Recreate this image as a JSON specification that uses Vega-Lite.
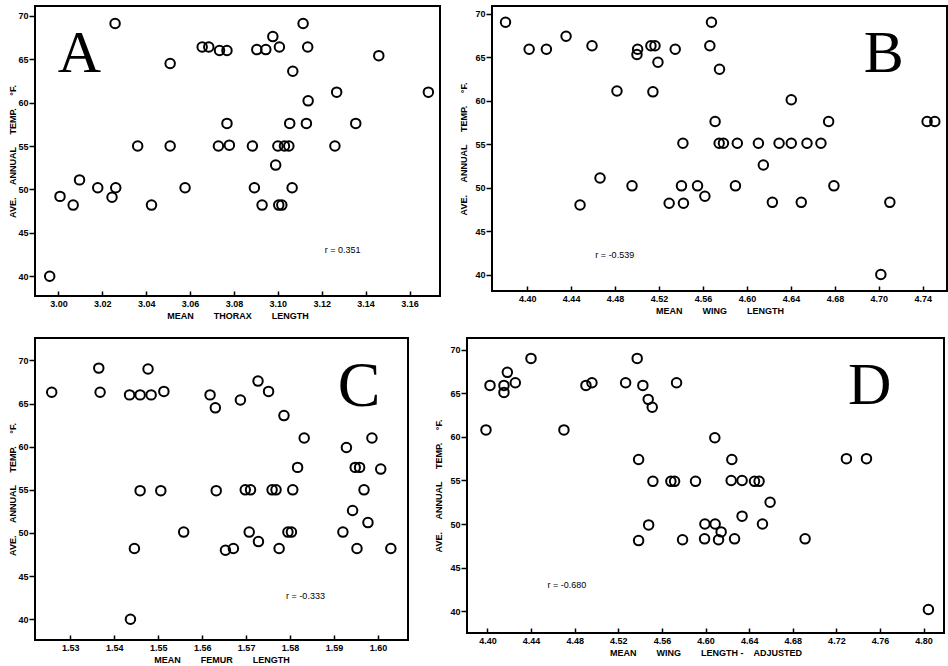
{
  "$schema": "https://vega.github.io/schema/vega-lite/v6.json",
  "background": "white",
  "padding": {"left": 7, "top": 5, "right": 0, "bottom": 0},
  "spacing": 16,
  "config": {
    "view": {"stroke": "black", "strokeWidth": 2},
    "axis": {
      "grid": false,
      "domain": false,
      "labelFont": "Liberation Sans",
      "labelFontWeight": "bold",
      "labelFontSize": 9,
      "labelColor": "black",
      "titleFont": "Liberation Sans",
      "titleFontWeight": "bold",
      "titleFontSize": 9,
      "titleColor": "black",
      "tickColor": "black",
      "tickWidth": 1.5
    },
    "axisX": {"tickSize": -5, "labelPadding": 8, "titlePadding": 3},
    "axisY": {"tickSize": 6, "labelPadding": 1, "titlePadding": 0}
  },
  "vconcat": [
    {
      "spacing": 17,
      "hconcat": [
        {
          "width": 405,
          "height": 290,
          "layer": [
            {
              "data": {"values": [
                {"x": 2.996, "y": 40.0}, {"x": 3.0007, "y": 49.2}, {"x": 3.0067, "y": 48.2}, {"x": 3.0096, "y": 51.1},
                {"x": 3.0179, "y": 50.2}, {"x": 3.0244, "y": 49.1}, {"x": 3.0261, "y": 50.2}, {"x": 3.0258, "y": 69.1},
                {"x": 3.0361, "y": 55.0}, {"x": 3.0424, "y": 48.2}, {"x": 3.0509, "y": 64.5}, {"x": 3.0509, "y": 55.0},
                {"x": 3.0577, "y": 50.2}, {"x": 3.0655, "y": 66.4}, {"x": 3.0685, "y": 66.4}, {"x": 3.0734, "y": 66.0},
                {"x": 3.0768, "y": 66.0}, {"x": 3.0768, "y": 57.6}, {"x": 3.0729, "y": 55.0}, {"x": 3.0779, "y": 55.1},
                {"x": 3.0884, "y": 55.0}, {"x": 3.0904, "y": 66.1}, {"x": 3.0945, "y": 66.1}, {"x": 3.0977, "y": 67.6},
                {"x": 3.1007, "y": 66.4}, {"x": 3.1115, "y": 69.1}, {"x": 3.1136, "y": 66.4}, {"x": 3.1068, "y": 63.6},
                {"x": 3.1268, "y": 61.2}, {"x": 3.1138, "y": 60.2}, {"x": 3.1054, "y": 57.6}, {"x": 3.113, "y": 57.6},
                {"x": 3.1355, "y": 57.6}, {"x": 3.146, "y": 65.4}, {"x": 3.1686, "y": 61.2}, {"x": 3.1, "y": 55.0},
                {"x": 3.103, "y": 55.0}, {"x": 3.105, "y": 55.0}, {"x": 3.126, "y": 55.0}, {"x": 3.099, "y": 52.8},
                {"x": 3.0893, "y": 50.2}, {"x": 3.1065, "y": 50.2}, {"x": 3.0928, "y": 48.2}, {"x": 3.1004, "y": 48.2},
                {"x": 3.1018, "y": 48.2}
              ]},
              "mark": {"type": "point", "shape": "circle", "filled": false, "stroke": "black", "strokeWidth": 2, "size": 90, "opacity": 1},
              "encoding": {
                "x": {"field": "x", "type": "quantitative", "scale": {"domain": [2.9893, 3.1739], "nice": false, "zero": false},
                  "axis": {"title": "MEAN\u00a0\u00a0\u00a0\u00a0\u00a0\u00a0\u00a0\u00a0THORAX\u00a0\u00a0\u00a0\u00a0\u00a0\u00a0\u00a0\u00a0LENGTH", "values": [3.0, 3.02, 3.04, 3.06, 3.08, 3.1, 3.12, 3.14, 3.16], "format": ".2f"}},
                "y": {"field": "y", "type": "quantitative", "scale": {"domain": [37.73, 71.12], "nice": false, "zero": false},
                  "axis": {"title": "AVE.\u00a0\u00a0\u00a0\u00a0\u00a0ANNUAL\u00a0\u00a0\u00a0\u00a0\u00a0TEMP.\u00a0\u00a0\u00a0\u00a0\u00a0°F.", "values": [40, 45, 50, 55, 60, 65, 70]}}
              }
            },
            {
              "data": {"values": [{"x": 3.0095, "y": 63.55, "t": "A"}]},
              "mark": {"type": "text", "font": "Liberation Serif", "fontSize": 60, "baseline": "alphabetic", "align": "center", "color": "black"},
              "encoding": {
                "x": {"field": "x", "type": "quantitative", "scale": {"domain": [2.9893, 3.1739], "nice": false, "zero": false}},
                "y": {"field": "y", "type": "quantitative", "scale": {"domain": [37.73, 71.12], "nice": false, "zero": false}},
                "text": {"field": "t"}
              }
            },
            {
              "data": {"values": [{"x": 3.1295, "y": 43.0, "t": "r = 0.351"}]},
              "mark": {"type": "text", "font": "Liberation Sans", "fontSize": 9, "baseline": "middle", "align": "center", "color": "black"},
              "encoding": {
                "x": {"field": "x", "type": "quantitative", "scale": {"domain": [2.9893, 3.1739], "nice": false, "zero": false}},
                "y": {"field": "y", "type": "quantitative", "scale": {"domain": [37.73, 71.12], "nice": false, "zero": false}},
                "text": {"field": "t"}
              }
            }
          ]
        },
        {
          "width": 455,
          "height": 285,
          "layer": [
            {
              "data": {"values": [
                {"x": 4.3803, "y": 69.0}, {"x": 4.4018, "y": 65.9}, {"x": 4.4175, "y": 65.9}, {"x": 4.4354, "y": 67.4},
                {"x": 4.459, "y": 66.3}, {"x": 4.4817, "y": 61.1}, {"x": 4.4663, "y": 51.1}, {"x": 4.4481, "y": 48.0},
                {"x": 4.4954, "y": 50.2}, {"x": 4.5005, "y": 65.9}, {"x": 4.4999, "y": 65.3}, {"x": 4.5126, "y": 66.3},
                {"x": 4.5163, "y": 66.3}, {"x": 4.519, "y": 64.4}, {"x": 4.5144, "y": 61.0}, {"x": 4.5347, "y": 65.9},
                {"x": 4.5292, "y": 48.2}, {"x": 4.5404, "y": 50.2}, {"x": 4.5422, "y": 48.2}, {"x": 4.5417, "y": 55.1},
                {"x": 4.555, "y": 50.2}, {"x": 4.5617, "y": 49.0}, {"x": 4.5677, "y": 69.0}, {"x": 4.5662, "y": 66.3},
                {"x": 4.575, "y": 63.6}, {"x": 4.571, "y": 57.6}, {"x": 4.5747, "y": 55.1}, {"x": 4.5786, "y": 55.1},
                {"x": 4.5912, "y": 55.1}, {"x": 4.5895, "y": 50.2}, {"x": 4.6104, "y": 55.1}, {"x": 4.6149, "y": 52.6},
                {"x": 4.6231, "y": 48.3}, {"x": 4.6292, "y": 55.1}, {"x": 4.6403, "y": 55.1}, {"x": 4.6403, "y": 60.1},
                {"x": 4.6494, "y": 48.3}, {"x": 4.6546, "y": 55.1}, {"x": 4.6673, "y": 55.1}, {"x": 4.6743, "y": 57.6},
                {"x": 4.6791, "y": 50.2}, {"x": 4.7218, "y": 40.0}, {"x": 4.73, "y": 48.3}, {"x": 4.7639, "y": 57.6},
                {"x": 4.7709, "y": 57.6}
              ]},
              "mark": {"type": "point", "shape": "circle", "filled": false, "stroke": "black", "strokeWidth": 2, "size": 90, "opacity": 1},
              "encoding": {
                "x": {"field": "x", "type": "quantitative", "scale": {"domain": [4.368, 4.782], "nice": false, "zero": false},
                  "axis": {"title": "MEAN\u00a0\u00a0\u00a0\u00a0\u00a0\u00a0\u00a0\u00a0WING\u00a0\u00a0\u00a0\u00a0\u00a0\u00a0\u00a0\u00a0LENGTH", "values": [4.4, 4.44, 4.48, 4.52, 4.56, 4.6, 4.64, 4.68, 4.72, 4.76],
                    "labelExpr": "datum.value > 4.715 && datum.value < 4.725 ? '4.70' : datum.value > 4.755 ? '4.74' : format(datum.value, '.2f')"}},
                "y": {"field": "y", "type": "quantitative", "scale": {"domain": [38.11, 70.87], "nice": false, "zero": false},
                  "axis": {"title": "AVE.\u00a0\u00a0\u00a0\u00a0\u00a0ANNUAL\u00a0\u00a0\u00a0\u00a0\u00a0TEMP.\u00a0\u00a0\u00a0\u00a0\u00a0°F.", "titlePadding": 6, "values": [40, 45, 50, 55, 60, 65, 70]}}
              }
            },
            {
              "data": {"values": [{"x": 4.7245, "y": 63.25, "t": "B"}]},
              "mark": {"type": "text", "font": "Liberation Serif", "fontSize": 60, "baseline": "alphabetic", "align": "center", "color": "black"},
              "encoding": {
                "x": {"field": "x", "type": "quantitative", "scale": {"domain": [4.368, 4.782], "nice": false, "zero": false}},
                "y": {"field": "y", "type": "quantitative", "scale": {"domain": [38.11, 70.87], "nice": false, "zero": false}},
                "text": {"field": "t"}
              }
            },
            {
              "data": {"values": [{"x": 4.4797, "y": 42.3, "t": "r = -0.539"}]},
              "mark": {"type": "text", "font": "Liberation Sans", "fontSize": 9, "baseline": "middle", "align": "center", "color": "black"},
              "encoding": {
                "x": {"field": "x", "type": "quantitative", "scale": {"domain": [4.368, 4.782], "nice": false, "zero": false}},
                "y": {"field": "y", "type": "quantitative", "scale": {"domain": [38.11, 70.87], "nice": false, "zero": false}},
                "text": {"field": "t"}
              }
            }
          ]
        }
      ]
    },
    {
      "spacing": 24,
      "hconcat": [
        {
          "width": 373,
          "height": 302,
          "layer": [
            {
              "data": {"values": [
                {"x": 1.5258, "y": 66.3}, {"x": 1.5365, "y": 69.1}, {"x": 1.5368, "y": 66.3}, {"x": 1.5435, "y": 66.0},
                {"x": 1.5459, "y": 66.0}, {"x": 1.5484, "y": 66.0}, {"x": 1.5477, "y": 69.0}, {"x": 1.5513, "y": 66.4},
                {"x": 1.5459, "y": 54.9}, {"x": 1.5506, "y": 54.9}, {"x": 1.5446, "y": 48.2}, {"x": 1.5437, "y": 40.0},
                {"x": 1.5558, "y": 50.1}, {"x": 1.5618, "y": 66.0}, {"x": 1.563, "y": 64.5}, {"x": 1.5632, "y": 54.9},
                {"x": 1.5653, "y": 48.0}, {"x": 1.5671, "y": 48.2}, {"x": 1.5687, "y": 65.4}, {"x": 1.5727, "y": 67.6},
                {"x": 1.5751, "y": 66.4}, {"x": 1.5786, "y": 63.6}, {"x": 1.5832, "y": 61.0}, {"x": 1.5817, "y": 57.6},
                {"x": 1.5698, "y": 55.0}, {"x": 1.571, "y": 55.0}, {"x": 1.5759, "y": 55.0}, {"x": 1.5768, "y": 55.0},
                {"x": 1.5806, "y": 55.0}, {"x": 1.5707, "y": 50.1}, {"x": 1.5728, "y": 49.0}, {"x": 1.5775, "y": 48.2},
                {"x": 1.5795, "y": 50.1}, {"x": 1.5803, "y": 50.1}, {"x": 1.5928, "y": 59.9}, {"x": 1.5986, "y": 61.0},
                {"x": 1.5948, "y": 57.6}, {"x": 1.5958, "y": 57.6}, {"x": 1.6006, "y": 57.4}, {"x": 1.5968, "y": 55.0},
                {"x": 1.5942, "y": 52.6}, {"x": 1.5977, "y": 51.2}, {"x": 1.592, "y": 50.1}, {"x": 1.5952, "y": 48.2},
                {"x": 1.6029, "y": 48.2}
              ]},
              "mark": {"type": "point", "shape": "circle", "filled": false, "stroke": "black", "strokeWidth": 2, "size": 90, "opacity": 1},
              "encoding": {
                "x": {"field": "x", "type": "quantitative", "scale": {"domain": [1.522, 1.6068], "nice": false, "zero": false},
                  "axis": {"title": "MEAN\u00a0\u00a0\u00a0\u00a0\u00a0\u00a0\u00a0\u00a0FEMUR\u00a0\u00a0\u00a0\u00a0\u00a0\u00a0\u00a0\u00a0LENGTH", "values": [1.53, 1.54, 1.55, 1.56, 1.57, 1.58, 1.59, 1.6], "format": ".2f"}},
                "y": {"field": "y", "type": "quantitative", "scale": {"domain": [37.6, 72.59], "nice": false, "zero": false},
                  "axis": {"title": "AVE.\u00a0\u00a0\u00a0\u00a0\u00a0ANNUAL\u00a0\u00a0\u00a0\u00a0\u00a0TEMP.\u00a0\u00a0\u00a0\u00a0\u00a0°F.", "values": [40, 45, 50, 55, 60, 65, 70]}}
              }
            },
            {
              "data": {"values": [{"x": 1.5957, "y": 64.7, "t": "C"}]},
              "mark": {"type": "text", "font": "Liberation Serif", "fontSize": 64, "baseline": "alphabetic", "align": "center", "color": "black"},
              "encoding": {
                "x": {"field": "x", "type": "quantitative", "scale": {"domain": [1.522, 1.6068], "nice": false, "zero": false}},
                "y": {"field": "y", "type": "quantitative", "scale": {"domain": [37.6, 72.59], "nice": false, "zero": false}},
                "text": {"field": "t"}
              }
            },
            {
              "data": {"values": [{"x": 1.5835, "y": 42.7, "t": "r = -0.333"}]},
              "mark": {"type": "text", "font": "Liberation Sans", "fontSize": 9, "baseline": "middle", "align": "center", "color": "black"},
              "encoding": {
                "x": {"field": "x", "type": "quantitative", "scale": {"domain": [1.522, 1.6068], "nice": false, "zero": false}},
                "y": {"field": "y", "type": "quantitative", "scale": {"domain": [37.6, 72.59], "nice": false, "zero": false}},
                "text": {"field": "t"}
              }
            }
          ]
        },
        {
          "width": 477,
          "height": 295,
          "layer": [
            {
              "data": {"values": [
                {"x": 4.3986, "y": 60.8}, {"x": 4.4023, "y": 65.9}, {"x": 4.4151, "y": 65.9}, {"x": 4.4151, "y": 65.1},
                {"x": 4.4182, "y": 67.4}, {"x": 4.4255, "y": 66.2}, {"x": 4.4399, "y": 69.0}, {"x": 4.4701, "y": 60.8},
                {"x": 4.4903, "y": 65.9}, {"x": 4.4958, "y": 66.2}, {"x": 4.5267, "y": 66.2}, {"x": 4.5373, "y": 69.0},
                {"x": 4.5425, "y": 65.9}, {"x": 4.5474, "y": 64.3}, {"x": 4.5511, "y": 63.4}, {"x": 4.5734, "y": 66.2},
                {"x": 4.5386, "y": 57.4}, {"x": 4.5517, "y": 54.9}, {"x": 4.5682, "y": 54.9}, {"x": 4.5716, "y": 54.9},
                {"x": 4.5908, "y": 54.9}, {"x": 4.5478, "y": 49.9}, {"x": 4.5386, "y": 48.1}, {"x": 4.5789, "y": 48.2},
                {"x": 4.5994, "y": 50.0}, {"x": 4.5991, "y": 48.3}, {"x": 4.6088, "y": 50.0}, {"x": 4.6085, "y": 59.9},
                {"x": 4.6143, "y": 49.1}, {"x": 4.6119, "y": 48.2}, {"x": 4.6266, "y": 48.3}, {"x": 4.6241, "y": 57.4},
                {"x": 4.6235, "y": 55.0}, {"x": 4.6335, "y": 55.0}, {"x": 4.6449, "y": 54.9}, {"x": 4.6491, "y": 54.9},
                {"x": 4.6335, "y": 50.9}, {"x": 4.6522, "y": 50.0}, {"x": 4.6592, "y": 52.5}, {"x": 4.6913, "y": 48.3},
                {"x": 4.7292, "y": 57.5}, {"x": 4.7476, "y": 57.5}, {"x": 4.8044, "y": 40.2}
              ]},
              "mark": {"type": "point", "shape": "circle", "filled": false, "stroke": "black", "strokeWidth": 2, "size": 90, "opacity": 1},
              "encoding": {
                "x": {"field": "x", "type": "quantitative", "scale": {"domain": [4.3812, 4.8187], "nice": false, "zero": false},
                  "axis": {"title": "MEAN\u00a0\u00a0\u00a0\u00a0\u00a0\u00a0\u00a0\u00a0WING\u00a0\u00a0\u00a0\u00a0\u00a0\u00a0\u00a0\u00a0LENGTH\u00a0-\u00a0\u00a0\u00a0\u00a0ADJUSTED", "values": [4.4, 4.44, 4.48, 4.52, 4.56, 4.6, 4.64, 4.68, 4.72, 4.76, 4.8], "format": ".2f"}},
                "y": {"field": "y", "type": "quantitative", "scale": {"domain": [37.5, 71.34], "nice": false, "zero": false},
                  "axis": {"title": "AVE.\u00a0\u00a0\u00a0\u00a0\u00a0ANNUAL\u00a0\u00a0\u00a0\u00a0\u00a0TEMP.\u00a0\u00a0\u00a0\u00a0\u00a0°F.", "titlePadding": 6, "values": [40, 45, 50, 55, 60, 65, 70]}}
              }
            },
            {
              "data": {"values": [{"x": 4.7506, "y": 63.8, "t": "D"}]},
              "mark": {"type": "text", "font": "Liberation Serif", "fontSize": 60, "baseline": "alphabetic", "align": "center", "color": "black"},
              "encoding": {
                "x": {"field": "x", "type": "quantitative", "scale": {"domain": [4.3812, 4.8187], "nice": false, "zero": false}},
                "y": {"field": "y", "type": "quantitative", "scale": {"domain": [37.5, 71.34], "nice": false, "zero": false}},
                "text": {"field": "t"}
              }
            },
            {
              "data": {"values": [{"x": 4.4729, "y": 43.0, "t": "r = -0.680"}]},
              "mark": {"type": "text", "font": "Liberation Sans", "fontSize": 9, "baseline": "middle", "align": "center", "color": "black"},
              "encoding": {
                "x": {"field": "x", "type": "quantitative", "scale": {"domain": [4.3812, 4.8187], "nice": false, "zero": false}},
                "y": {"field": "y", "type": "quantitative", "scale": {"domain": [37.5, 71.34], "nice": false, "zero": false}},
                "text": {"field": "t"}
              }
            }
          ]
        }
      ]
    }
  ]
}
